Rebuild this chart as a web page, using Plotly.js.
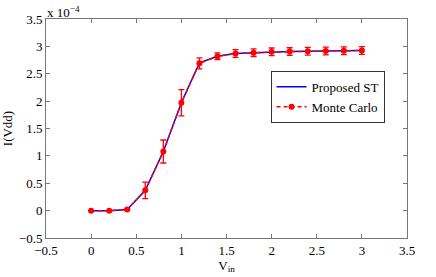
<!DOCTYPE html>
<html>
<head>
<meta charset="utf-8">
<script src="https://cdn.plot.ly/plotly-3.0.1.min.js"></script>
<style>html,body{margin:0;padding:0;background:#fff;}#chart{width:436px;height:277px;}</style>
</head>
<body>
<div id="chart"></div>
<script>
// x values (V_in)
const vin = [0, 0.2, 0.4, 0.6, 0.8, 1.0, 1.2, 1.4, 1.6, 1.8, 2.0, 2.2, 2.4, 2.6, 2.8, 3.0];
// I(Vdd) in units of 1e-4
const proposedST = [0, 0, 0.02, 0.37, 1.08, 1.97, 2.70, 2.82, 2.87, 2.885, 2.90, 2.905, 2.91, 2.915, 2.92, 2.925];
const monteCarlo = [0, 0, 0.02, 0.37, 1.08, 1.97, 2.69, 2.82, 2.87, 2.885, 2.90, 2.905, 2.91, 2.915, 2.92, 2.925];
const monteCarloErr = [0, 0, 0.01, 0.15, 0.21, 0.24, 0.10, 0.06, 0.07, 0.07, 0.07, 0.07, 0.07, 0.07, 0.07, 0.07];
const yTickVals = [-0.5, 0, 0.5, 1, 1.5, 2, 2.5, 3, 3.5];
const yTickText = ['−0.5', '0', '0.5', '1', '1.5', '2', '2.5', '3', '3.5'];
const xTickVals = [-0.5, 0, 0.5, 1, 1.5, 2, 2.5, 3, 3.5];
const xTickText = ['−0.5', '0', '0.5', '1', '1.5', '2', '2.5', '3', '3.5'];

const fam = '"Liberation Serif", "DejaVu Serif", "Times New Roman", Times, serif';
const font = {family: fam, size: 13, color: '#000'};
const legFont = {family: fam, size: 13, color: '#000'};

const traces = [
  {
    x: vin, y: proposedST, name: 'Proposed ST', type: 'scatter', mode: 'lines',
    line: {color: '#0000ff', width: 1.5}
  },
  {
    x: vin, y: monteCarlo, name: 'Monte Carlo', type: 'scatter', mode: 'lines+markers',
    line: {color: '#ff0000', width: 1.5, dash: '4px,3px'},
    marker: {color: '#ff0000', size: 6, symbol: 'circle'},
    error_y: {type: 'data', array: monteCarloErr, visible: true, color: '#ff0000', thickness: 1.3, width: 3}
  }
];

const axisCommon = {
  showgrid: false, zeroline: false, showline: true, linecolor: '#777', linewidth: 1,
  mirror: 'ticks', ticks: 'inside', ticklen: 4, tickcolor: '#777', tickwidth: 1,
  tickfont: font, tickmode: 'array'
};

const layout = {
  width: 436, height: 277,
  margin: {l: 46, r: 29, t: 19, b: 39},
  paper_bgcolor: '#fff', plot_bgcolor: '#fff',
  font: font,
  showlegend: true,
  legend: {
    x: 0.622, y: 0.763, xanchor: 'left', yanchor: 'top',
    bgcolor: '#fff', bordercolor: '#333', borderwidth: 1,
    font: legFont, tracegroupgap: 0, itemwidth: 30
  },
  xaxis: Object.assign({}, axisCommon, {
    range: [-0.5, 3.5], tickvals: xTickVals, ticktext: xTickText,
    title: {text: 'V<sub>in</sub>', font: font, standoff: 2}
  }),
  yaxis: Object.assign({}, axisCommon, {
    range: [-0.5, 3.5], tickvals: yTickVals, ticktext: yTickText,
    title: {text: 'I(Vdd)', font: font, standoff: 4}
  }),
  annotations: [{
    xref: 'paper', yref: 'paper', x: 0, y: 1, xanchor: 'left', yanchor: 'bottom',
    text: 'x 10<sup>−4</sup>', showarrow: false, font: font, xshift: -1, yshift: -3
  }]
};

Plotly.newPlot('chart', traces, layout, {displayModeBar: false, staticPlot: true});
</script>
</body>
</html>
